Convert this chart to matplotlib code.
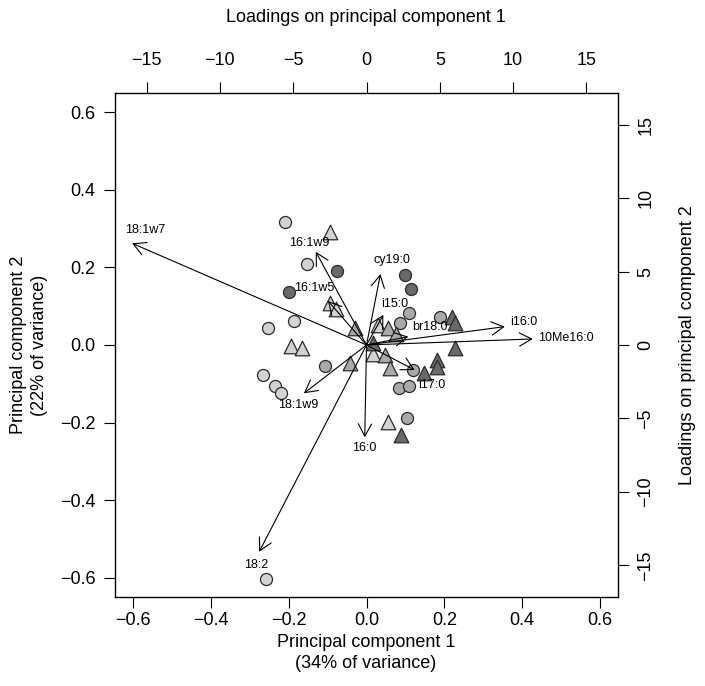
import matplotlib.pyplot as plt

plt.rcParams['font.family'] = ['Liberation Sans', 'DejaVu Sans']

# sample scores on PC1 / PC2, split by symbol and shade
circ_light_x = [-0.210, -0.153, -0.186, -0.252, -0.266, -0.234, -0.220, -0.259]
circ_light_y = [0.318, 0.209, 0.062, 0.045, -0.077, -0.107, -0.125, -0.604]
circ_mid_x = [0.110, 0.086, 0.190, -0.107, 0.120, 0.083, 0.109, 0.104]
circ_mid_y = [0.082, 0.056, 0.071, -0.055, -0.065, -0.110, -0.107, -0.189]
circ_dark_x = [-0.076, -0.199, 0.100, 0.114]
circ_dark_y = [0.191, 0.137, 0.181, 0.145]

tri_light_x = [-0.093, -0.094, -0.079, -0.193, -0.165, 0.030, 0.017, 0.054]
tri_light_y = [0.292, 0.108, 0.092, -0.002, -0.009, 0.052, -0.024, -0.198]
tri_mid_x = [-0.030, 0.056, 0.077, 0.047, -0.043, 0.060]
tri_mid_y = [0.045, 0.043, 0.028, -0.026, -0.047, -0.060]
tri_dark_x = [0.017, 0.219, 0.227, 0.227, 0.181, 0.180, 0.148, 0.088]
tri_dark_y = [0.004, 0.073, 0.056, -0.009, -0.039, -0.056, -0.071, -0.232]

# fatty acid loadings
fa_names = ['18:1w7', '16:1w9', '16:1w5', 'cy19:0', 'i15:0', 'br18:0',
            'i16:0', '10Me16:0', 'i17:0', '16:0', '18:1w9', '18:2']
load_pc1 = [-15.98, -3.46, -2.63, 0.95, 1.15, 2.85, 9.43, 11.34, 3.29, -0.12, -4.27, -7.32]
load_pc2 = [6.92, 6.35, 3.00, 4.83, 2.05, 0.57, 1.25, 0.41, -1.70, -6.28, -3.29, -14.07]

# label offset from arrow tip (pixels) and alignment
lab_dx = [13, -7, -14, 12, 11, 22, 5, 5, 17, 0, -6, -3]
lab_dy = [13, 9, 13, 14, 11, 10, 5, 1, -15, -11, -12, -13]
lab_ha = ['center'] * 6 + ['left', 'left'] + ['center'] * 4

light, mid, dark = '#d3d3d3', '#a9a9a9', '#696969'

W, H = 705, 686
fig = plt.figure(figsize=(W / 100, H / 100), dpi=100)
ax = fig.add_axes([115 / W, 89 / H, 503 / W, 504 / H])

for xs, ys, c in [(circ_light_x, circ_light_y, light),
                  (circ_mid_x, circ_mid_y, mid),
                  (circ_dark_x, circ_dark_y, dark)]:
    ax.scatter(xs, ys, s=75, marker='o', facecolor=c, edgecolor='#2a2a2a',
               linewidth=0.9, zorder=3)
for xs, ys, c in [(tri_light_x, tri_light_y, light),
                  (tri_mid_x, tri_mid_y, mid),
                  (tri_dark_x, tri_dark_y, dark)]:
    ax.scatter(xs, ys, s=110, marker='^', facecolor=c, edgecolor='#2a2a2a',
               linewidth=0.9, zorder=3)

ax.set_xlim(-0.646, 0.646)
ax.set_ylim(-0.65, 0.65)
ticks = [-0.6, -0.4, -0.2, 0.0, 0.2, 0.4, 0.6]
tick_lab = [f'{v:.1f}'.replace('-', '\u2212') for v in ticks]
ax.set_xticks(ticks)
ax.set_yticks(ticks)
ax.set_xticklabels(tick_lab)
ax.set_yticklabels(tick_lab)
ax.tick_params(direction='out', length=8, width=0.8, labelsize=13, pad=6)
ax.tick_params(axis='x', pad=3)
for sp in ax.spines.values():
    sp.set_linewidth(1.0)

# loadings axes on top / right
ax2 = fig.add_axes(ax.get_position(), facecolor='none')
ax2.set_xlim(-17.15, 17.15)
ax2.set_ylim(-17.15, 17.15)
lt = [-15, -10, -5, 0, 5, 10, 15]
lt_lab = [str(v).replace('-', '\u2212') for v in lt]
ax2.set_xticks(lt)
ax2.set_yticks(lt)
ax2.set_xticklabels(lt_lab)
ax2.set_yticklabels(lt_lab, rotation=90, va='center')
ax2.xaxis.tick_top()
ax2.yaxis.tick_right()
ax2.tick_params(direction='out', length=8, width=0.8, labelsize=13, pad=6)
ax2.tick_params(axis='x', pad=9)
for sp in ax2.spines.values():
    sp.set_visible(False)

# axis titles
fig.text(366 / W, 1 - 653 / H, 'Principal component 1\n(34% of variance)',
         ha='center', va='center', fontsize=13, linespacing=1.3)
fig.text(29 / W, 1 - 345 / H, 'Principal component 2\n(22% of variance)',
         ha='center', va='center', rotation=90, fontsize=13, linespacing=1.3)
fig.text(366 / W, 1 - 17 / H, 'Loadings on principal component 1',
         ha='center', va='center', fontsize=13)
fig.text(688 / W, 1 - 345 / H, 'Loadings on principal component 2',
         ha='center', va='center', rotation=90, fontsize=13)

for name, lx, ly, dx, dy, ha in zip(fa_names, load_pc1, load_pc2, lab_dx, lab_dy, lab_ha):
    ax2.annotate('', xy=(lx, ly), xytext=(0, 0),
                 arrowprops=dict(arrowstyle='->,head_length=0.55,head_width=0.3',
                                 mutation_scale=16, lw=0.8, color='black',
                                 shrinkA=0, shrinkB=0), zorder=4)
    ax2.annotate(name, xy=(lx, ly), xytext=(dx * 0.72, dy * 0.72),
                 textcoords='offset points', ha=ha, va='center', fontsize=9, zorder=5)

fig.savefig('out.png', dpi=100)
